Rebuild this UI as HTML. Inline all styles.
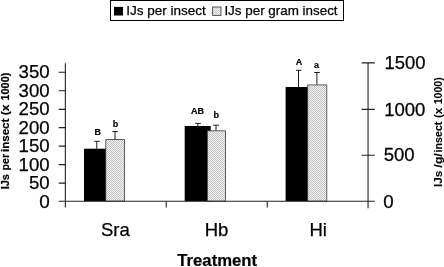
<!DOCTYPE html>
<html lang="en">
<head>
<meta charset="utf-8">
<title>IJs per insect / IJs per gram insect by Treatment</title>
<style>
  html, body { margin: 0; padding: 0; background: #ffffff; }
  body { width: 444px; height: 267px; overflow: hidden; }
  svg { display: block; }
  text { font-family: "Liberation Sans", Arial, Helvetica, sans-serif; fill: #000; stroke: #000; stroke-width: 0.25px; }
  .b, .b text { font-weight: bold; stroke-width: 0.2px; }
  text.r { stroke-width: 0.08px; }
</style>
</head>
<body>
<svg width="444" height="267" viewBox="0 0 444 267">
  <defs>
    <pattern id="hatch" width="2" height="2" patternUnits="userSpaceOnUse">
      <rect width="2" height="2" fill="#f3f3f3"/>
      <rect x="0" y="0" width="1" height="1" fill="#c1c1c1"/>
      <rect x="1" y="1" width="1" height="1" fill="#c1c1c1"/>
    </pattern>
    <pattern id="hatch2" width="2" height="2" patternUnits="userSpaceOnUse">
      <rect width="2" height="2" fill="#efefef"/>
      <rect x="0" y="0" width="1" height="1" fill="#cfcfcf"/>
      <rect x="1" y="1" width="1" height="1" fill="#cfcfcf"/>
    </pattern>
  </defs>
  <rect x="0" y="0" width="444" height="267" fill="#ffffff"/>

  <!-- legend -->
  <rect x="110.5" y="0.5" width="233" height="20" fill="#ffffff" stroke="#000" stroke-width="1"/>
  <rect x="114" y="6.9" width="9" height="8.6" fill="#000"/>
  <text x="126.3" y="14.6" font-size="13.5">IJs per insect</text>
  <rect x="212.6" y="7" width="8.4" height="8.4" fill="url(#hatch2)" stroke="#444" stroke-width="0.9"/>
  <text x="224.4" y="14.6" font-size="13.5" textLength="113.2" lengthAdjust="spacingAndGlyphs">IJs per gram insect</text>

  <!-- bars: black series -->
  <rect x="84" y="148.7" width="26" height="52.5" fill="#000"/>
  <rect x="184.7" y="126" width="26" height="75.2" fill="#000"/>
  <rect x="285.6" y="87" width="26" height="114.2" fill="#000"/>

  <!-- bars: gray series -->
  <g fill="url(#hatch)" stroke="#3a3a3a" stroke-width="0.8">
    <rect x="105.8" y="139.6" width="18.7" height="61.6"/>
    <rect x="207.3" y="130.8" width="18.2" height="70.4"/>
    <rect x="307.7" y="84.9" width="19.1" height="116.3"/>
  </g>

  <!-- error bars -->
  <g stroke="#111" stroke-width="0.95" fill="none">
    <path d="M96.8 148.7V141.3M94.2 141.3H99.8"/>
    <path d="M115 139.5V131.6M112.3 131.6H117.9"/>
    <path d="M197.8 126V123.4M195.2 123.4H200.8"/>
    <path d="M216 130.5V125.2M213.2 125.2H218.9"/>
    <path d="M298.5 87V70.3M296 70.3H301.3"/>
    <path d="M316.9 84.7V72.5M314.2 72.5H319.8"/>
  </g>

  <!-- axes -->
  <g stroke="#222" stroke-width="1.1" fill="none">
    <!-- left axis -->
    <path d="M65.35 63.2V207.6"/>
    <path d="M58.7 72.3H65.5M58.7 90.7H65.5M58.7 109.4H65.5M58.7 127.6H65.5M58.7 146.1H65.5M58.7 164.6H65.5M58.7 183.1H65.5"/>
    <!-- x axis -->
    <path d="M58.7 201.2H374.8"/>
    <path d="M166.2 201.2V207.6M267.2 201.2V207.6"/>
    <!-- right axis -->
    <path d="M368.05 62.5V208.2"/>
    <path d="M361.6 62.9H374.8M361.6 109.4H374.8M361.6 155.3H374.8"/>
  </g>

  <!-- left axis numbers -->
  <g font-size="18" text-anchor="end" lengthAdjust="spacingAndGlyphs">
    <text x="49.7" y="78" textLength="31.1" lengthAdjust="spacingAndGlyphs">350</text>
    <text x="49.7" y="96.6" font-size="18.5" textLength="31.1" lengthAdjust="spacingAndGlyphs">300</text>
    <text x="49.7" y="115.2" font-size="18.7" textLength="31.1" lengthAdjust="spacingAndGlyphs">250</text>
    <text x="49.7" y="133.6" font-size="18.6" textLength="31.1" lengthAdjust="spacingAndGlyphs">200</text>
    <text x="49.7" y="152" font-size="18.7" textLength="31.1" lengthAdjust="spacingAndGlyphs">150</text>
    <text x="49.7" y="170.5" font-size="18.5" textLength="31.1" lengthAdjust="spacingAndGlyphs">100</text>
    <text x="49.7" y="189" font-size="18.5" textLength="20.7" lengthAdjust="spacingAndGlyphs">50</text>
    <text x="49.7" y="207.7" textLength="10.5" lengthAdjust="spacingAndGlyphs">0</text>
  </g>

  <!-- right axis numbers -->
  <g font-size="18" text-anchor="start">
    <text x="384.4" y="69.2" textLength="41" lengthAdjust="spacingAndGlyphs">1500</text>
    <text transform="translate(384.2 115.5) scale(1 1.07)" textLength="41.2" lengthAdjust="spacingAndGlyphs">1000</text>
    <text transform="translate(383.7 161.4) scale(1 1.03)" textLength="30.9" lengthAdjust="spacingAndGlyphs">500</text>
    <text x="383.3" y="207.7" textLength="10.4" lengthAdjust="spacingAndGlyphs">0</text>
  </g>

  <!-- category labels -->
  <g font-size="18.5" text-anchor="middle">
    <text x="115.3" y="236.1">Sra</text>
    <text x="216.5" y="236.1">Hb</text>
    <text x="318.2" y="236.1">Hi</text>
  </g>

  <!-- significance letters -->
  <g class="b" font-size="9" text-anchor="middle">
    <text x="97.8" y="134.7">B</text>
    <text x="115.5" y="126.6">b</text>
    <text x="197.6" y="113.5">AB</text>
    <text x="216.3" y="118.2">b</text>
    <text x="299.1" y="64.5">A</text>
    <text x="316.6" y="68.2">a</text>
  </g>

  <!-- axis titles -->
  <text class="b" font-size="16.7" text-anchor="middle" x="217.2" y="266.1">Treatment</text>
  <text class="b" font-size="10" transform="translate(8.5 0) scale(1.06 1) rotate(-90)"><tspan x="-189.3" y="0" textLength="15.2" lengthAdjust="spacingAndGlyphs">IJs</tspan> <tspan x="-170.4" y="0" textLength="16.4" lengthAdjust="spacingAndGlyphs">per</tspan> <tspan x="-152.1" y="0" textLength="33.5" lengthAdjust="spacingAndGlyphs">insect</tspan> <tspan x="-115.3" y="0" textLength="10.6" lengthAdjust="spacingAndGlyphs">(x</tspan> <tspan x="-100.5" y="0" textLength="27.8" lengthAdjust="spacingAndGlyphs">1000)</tspan></text>
  <text class="b r" font-size="10" transform="translate(441.5 0) scale(1.04 1) rotate(-90)"><tspan x="-187" y="0" textLength="16.3" lengthAdjust="spacingAndGlyphs">IJs</tspan> <tspan x="-167.5" y="0" font-size="10.8" textLength="14.3" lengthAdjust="spacingAndGlyphs">/g/</tspan><tspan x="-152.4" y="0" textLength="30.8" lengthAdjust="spacingAndGlyphs">insect</tspan> <tspan x="-118.1" y="0" textLength="10.2" lengthAdjust="spacingAndGlyphs">(x</tspan> <tspan x="-104.3" y="0" textLength="27" lengthAdjust="spacingAndGlyphs">1000)</tspan></text>
</svg>
</body>
</html>
